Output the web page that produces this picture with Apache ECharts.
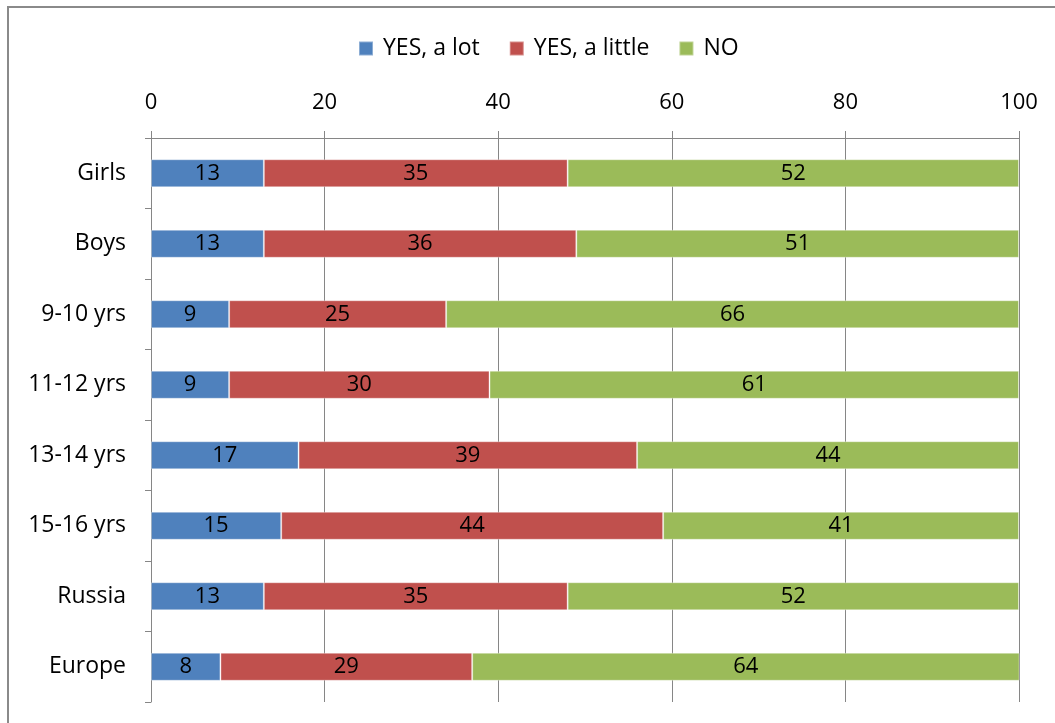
<!DOCTYPE html>
<html><head><meta charset="utf-8">
<script src="https://cdn.jsdelivr.net/npm/echarts@6/dist/echarts.min.js"></script>
<style>html,body{margin:0;padding:0;background:#fff}#c{width:1055px;height:723px}</style>
</head><body><div id="c"></div>
<script>
const categories = ['Girls','Boys','9-10 yrs','11-12 yrs','13-14 yrs','15-16 yrs','Russia','Europe'];
const yesALot = [13,13,9,9,17,15,13,8];
const yesALittle = [35,36,25,30,39,44,35,29];
const no = [52,51,66,61,44,41,52,64];
const xTicks = [0,20,40,60,80,100];
const seriesNames = ['YES, a lot','YES, a little','NO'];
const colors = ['#4F81BD','#C0504D','#9BBB59'];

const font = 'Open Sans';
const chart = echarts.init(document.getElementById('c'));
const mk = (name, data, color) => ({
  name, type:'bar', stack:'s', data, barWidth:28, clip:true,
  itemStyle:{color, borderColor:'rgba(255,255,255,0.35)', borderWidth:1},
  label:{show:true, position:'inside', color:'#000', fontSize:22, fontFamily:font},
  emphasis:{disabled:true}
});
chart.setOption({
  animation:false,
  color: colors,
  graphic:[{type:'rect', shape:{x:8,y:7,width:1200,height:900}, style:{fill:'none', stroke:'#8a8a8a', lineWidth:2}, silent:true}],
  legend:{top:32, left:353, itemWidth:14, itemHeight:14, itemGap:29,
    textStyle:{fontSize:23, fontFamily:font, color:'#000', padding:[0,0,0,5]}, icon:'rect', data:seriesNames},
  grid:{left:151, right:36, top:138, bottom:21, containLabel:false},
  xAxis:{type:'value', position:'top', min:0, max:100, interval:20,
    axisLine:{show:true, lineStyle:{color:'#868686'}},
    axisTick:{show:true, length:7, lineStyle:{color:'#868686'}},
    splitLine:{show:true, lineStyle:{color:'#868686', width:1}},
    axisLabel:{fontSize:22, fontFamily:font, color:'#000', margin:24,
      formatter: v => xTicks.includes(v) ? String(v) : ''}},
  yAxis:{type:'category', inverse:true, data:categories,
    axisLine:{show:true, lineStyle:{color:'#868686'}},
    axisTick:{show:true, length:6, lineStyle:{color:'#868686'}},
    axisLabel:{fontSize:23, fontFamily:font, color:'#000', margin:25}},
  series:[mk(seriesNames[0], yesALot, colors[0]), mk(seriesNames[1], yesALittle, colors[1]), mk(seriesNames[2], no, colors[2])]
});
</script></body></html>
